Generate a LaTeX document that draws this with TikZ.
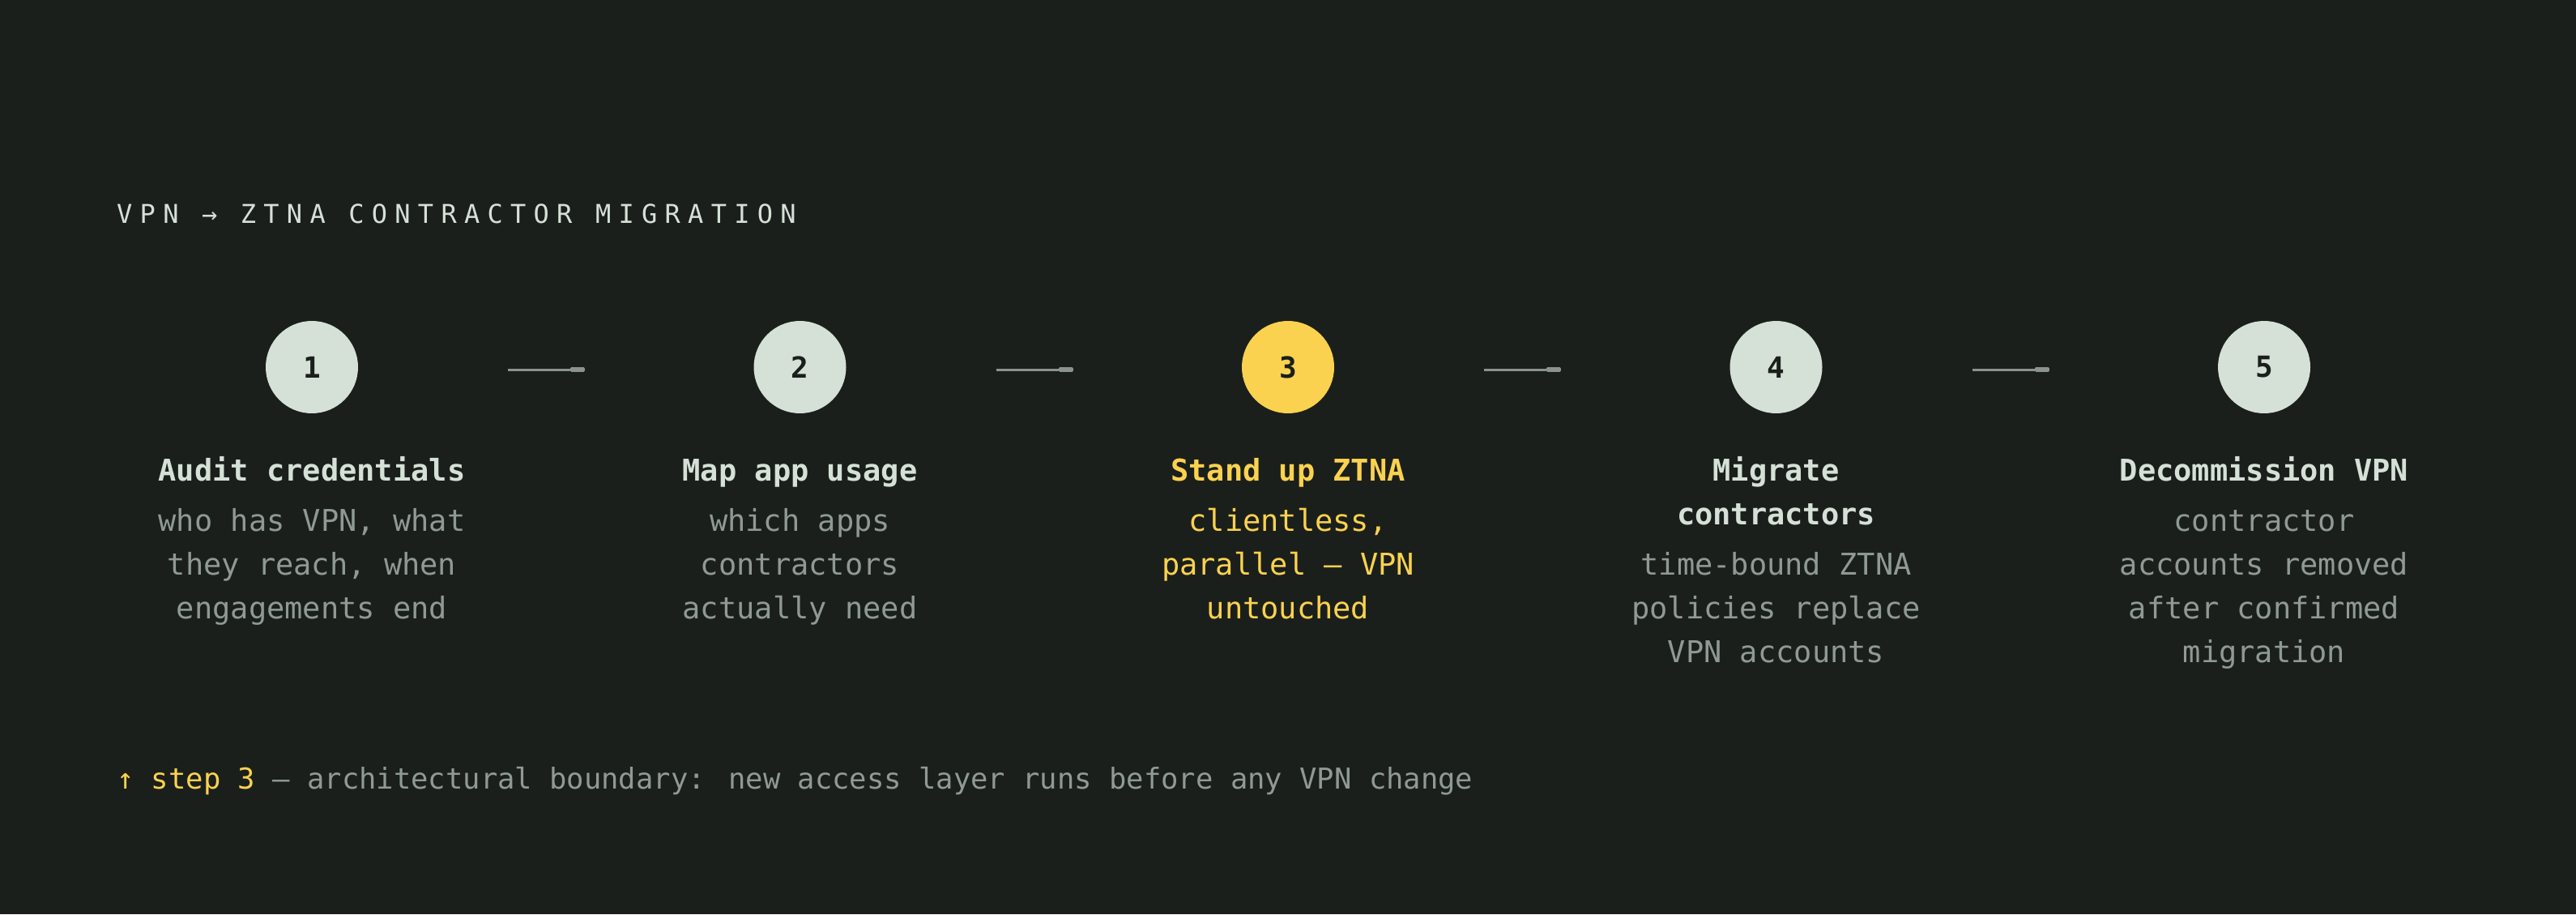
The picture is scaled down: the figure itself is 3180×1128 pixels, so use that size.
\documentclass[tikz,border=0pt]{standalone}
\usepackage{fontspec}
\newfontfamily\plex{DejaVu Sans Mono}
\newfontfamily\plexsp[LetterSpace=29]{DejaVu Sans Mono}
\usetikzlibrary{arrows.meta}
\definecolor{bg}{HTML}{1B1F1C}
\definecolor{pale}{HTML}{D5E0D6}
\definecolor{muted}{HTML}{8F9A92}
\definecolor{yel}{HTML}{FAD24F}
\definecolor{conncol}{HTML}{8A948D}
\begin{document}
\begin{tikzpicture}[x=1pt,y=-1pt,
  stepcircle/.style={circle, fill=pale, minimum size=114pt, inner sep=0pt,
    font=\plex\bfseries\fontsize{36}{36}\selectfont, text=bg},
  hot/.style={fill=yel},
  ttl/.style={anchor=base, inner sep=0pt, font=\plex\bfseries\fontsize{37}{44}\selectfont, text=pale},
  bdy/.style={anchor=base, inner sep=0pt, font=\plex\fontsize{37}{44}\selectfont, text=muted},
  conn/.style={draw=conncol, line width=3pt, -{Rectangle[length=18pt,width=6.5pt,round]},
    shorten <=242pt, shorten >=265.5pt}
]
\fill[bg] (0,0) rectangle (3180,1128);
\useasboundingbox (0,0) rectangle (3180,1128);

% header
\node[anchor=base west, inner sep=0pt, font=\plexsp\fontsize{32}{32}\selectfont, text=pale]
  (hdr) at (144,275) {VPN → ZTNA CONTRACTOR MIGRATION};

% circles
\node[stepcircle] (c1) at (385,453) {1};
\node[stepcircle] (c2) at (987.5,453) {2};
\node[stepcircle, hot] (c3) at (1590,453) {3};
\node[stepcircle] (c4) at (2192.5,453) {4};
\node[stepcircle] (c5) at (2795,453) {5};

% connectors
\draw[conn] ([yshift=-3pt]c1.center) -- ([yshift=-3pt]c2.center);
\draw[conn] ([yshift=-3pt]c2.center) -- ([yshift=-3pt]c3.center);
\draw[conn] ([yshift=-3pt]c3.center) -- ([yshift=-3pt]c4.center);
\draw[conn] ([yshift=-3pt]c4.center) -- ([yshift=-3pt]c5.center);

% step 1
\node[ttl] (t1) at (385,593) {Audit credentials};
\node[bdy] (b1a) at (385,655) {who has VPN, what};
\node[bdy] (b1b) at (385,709) {they reach, when};
\node[bdy] (b1c) at (385,763) {engagements end};

% step 2
\node[ttl] (t2) at (987.5,593) {Map app usage};
\node[bdy] (b2a) at (987.5,655) {which apps};
\node[bdy] (b2b) at (987.5,709) {contractors};
\node[bdy] (b2c) at (987.5,763) {actually need};

% step 3
\node[ttl, text=yel] (t3) at (1590,593) {Stand up ZTNA};
\node[bdy, text=yel] (b3a) at (1590,655) {clientless,};
\node[bdy, text=yel] (b3b) at (1590,709) {parallel — VPN};
\node[bdy, text=yel] (b3c) at (1590,763) {untouched};

% step 4
\node[ttl] (t4a) at (2192.5,593) {Migrate};
\node[ttl] (t4b) at (2192.5,647) {contractors};
\node[bdy] (b4a) at (2192.5,709) {time-bound ZTNA};
\node[bdy] (b4b) at (2192.5,763) {policies replace};
\node[bdy] (b4c) at (2192.5,817) {VPN accounts};

% step 5
\node[ttl] (t5) at (2795,593) {Decommission VPN};
\node[bdy] (b5a) at (2795,655) {contractor};
\node[bdy] (b5b) at (2795,709) {accounts removed};
\node[bdy] (b5c) at (2795,763) {after confirmed};
\node[bdy] (b5d) at (2795,817) {migration};

% footer
\node[anchor=base west, inner sep=0pt, font=\plex\fontsize{35.5}{40}\selectfont, text=muted]
  (foot) at (144,973) {\textcolor{yel}{↑ step 3} — architectural boundary: new access layer runs before any VPN change};
\end{tikzpicture}
\end{document}
